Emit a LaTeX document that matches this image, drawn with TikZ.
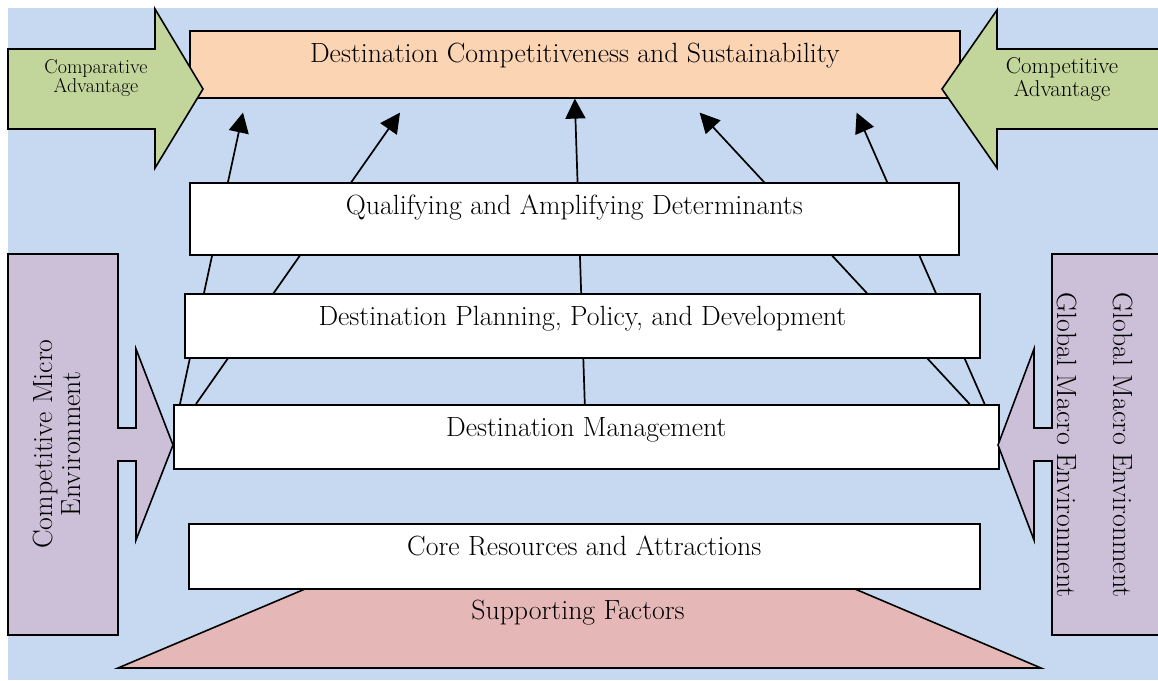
\documentclass[tikz,border=0pt]{standalone}
\usetikzlibrary{arrows.meta,calc,backgrounds}
\definecolor{bgblue}{HTML}{C6D9F0}
\definecolor{topfill}{HTML}{FBD4B4}
\definecolor{advgreen}{HTML}{C2D69B}
\definecolor{envpurple}{HTML}{CCC0D9}
\definecolor{supportpink}{HTML}{E5B8B7}
\begin{document}
\begin{tikzpicture}[x=1pt, y=-1pt, line width=1.6pt,
    every node/.style = {font=\fontsize{27.8}{28}\selectfont},
    layer/.style = {draw, fill=white, anchor=north west, inner xsep=0pt, inner ysep=0pt, text height=32pt},
    up/.style = {line width=1.7pt, -{Triangle[length=20pt,width=20pt]}}]
    \useasboundingbox (0,0) rectangle (1158,680);
    \node[layer, fill=topfill, minimum width=770pt, text depth=35pt] (dest) at (189,30) {Destination Competitiveness and Sustainability};
    \node[layer, minimum width=769pt, text depth=40pt] (qual) at (189,182) {Qualifying and Amplifying Determinants};
    \node[layer, minimum width=795pt, text depth=32pt] (plan) at (184,293) {Destination Planning, Policy, and Development};
    \node[layer, minimum width=825pt, text depth=32pt] (mgmt) at (173,404) {Destination Management};
    \draw[fill=supportpink] (118,668) -- (305,589) -- (855,589) -- (1041,668) -- cycle;
    \node (support) at (578,613) {Supporting Factors};
    \node[layer, minimum width=791pt, text depth=33pt] (core) at (188,523) {Core Resources and Attractions};
    \draw[fill=advgreen] (8,49) -- (155,49) -- (155,9) -- (203,89) -- (155,168) -- (155,129) -- (8,129) -- cycle;
    \draw[fill=advgreen] (1162,49) -- (997,49) -- (997,10) -- (942,89) -- (997,168) -- (997,129) -- (1162,129);
    \node[font=\fontsize{20}{19}\selectfont, align=center] (compar) at (96,78) {Comparative\\Advantage};
    \node[font=\fontsize{22.8}{23}\selectfont, align=center] (compet) at (1062,79) {Competitive\\Advantage};
    \draw[fill=envpurple] (8,254) -- (118,254) -- (118,428) -- (136,428) -- (136,349) -- (173,445) -- (136,540)
        -- (136,461) -- (118,461) -- (118,635) -- (8,635) -- cycle;
    \draw[fill=envpurple] (1162,254) -- (1052,254) -- (1052,428) -- (1034,428) -- (1034,349) -- (998,445) -- (1034,540)
        -- (1034,461) -- (1052,461) -- (1052,635) -- (1162,635);
    \node[rotate=90, align=center] (micro) at (57,444) {Competitive Micro\\Environment};
    \node[rotate=-90] (macroa) at (1067,445) {Global Macro Environment};
    \node[rotate=-90] (macrob) at (1123,445) {Global Macro Environment};
    \begin{scope}[on background layer]
        \fill[bgblue] (8,8) rectangle (1158,680);
        \draw[up] ($(mgmt.north west)+(7,0)$) -- ($(dest.south west)+(54,14)$);
        \draw[up] ($(mgmt.north west)+(23,0)$) -- ($(dest.south west)+(211,14)$);
        \draw[up] ($(mgmt.north)+(-1.5,0)$) -- (dest.south);
        \draw[up] ($(mgmt.north east)+(-30,0)$) -- ($(dest.south east)+(-261,14)$);
        \draw[up] ($(mgmt.north east)+(-15,0)$) -- ($(dest.south east)+(-104,14)$);
    \end{scope}
\end{tikzpicture}
\end{document}
